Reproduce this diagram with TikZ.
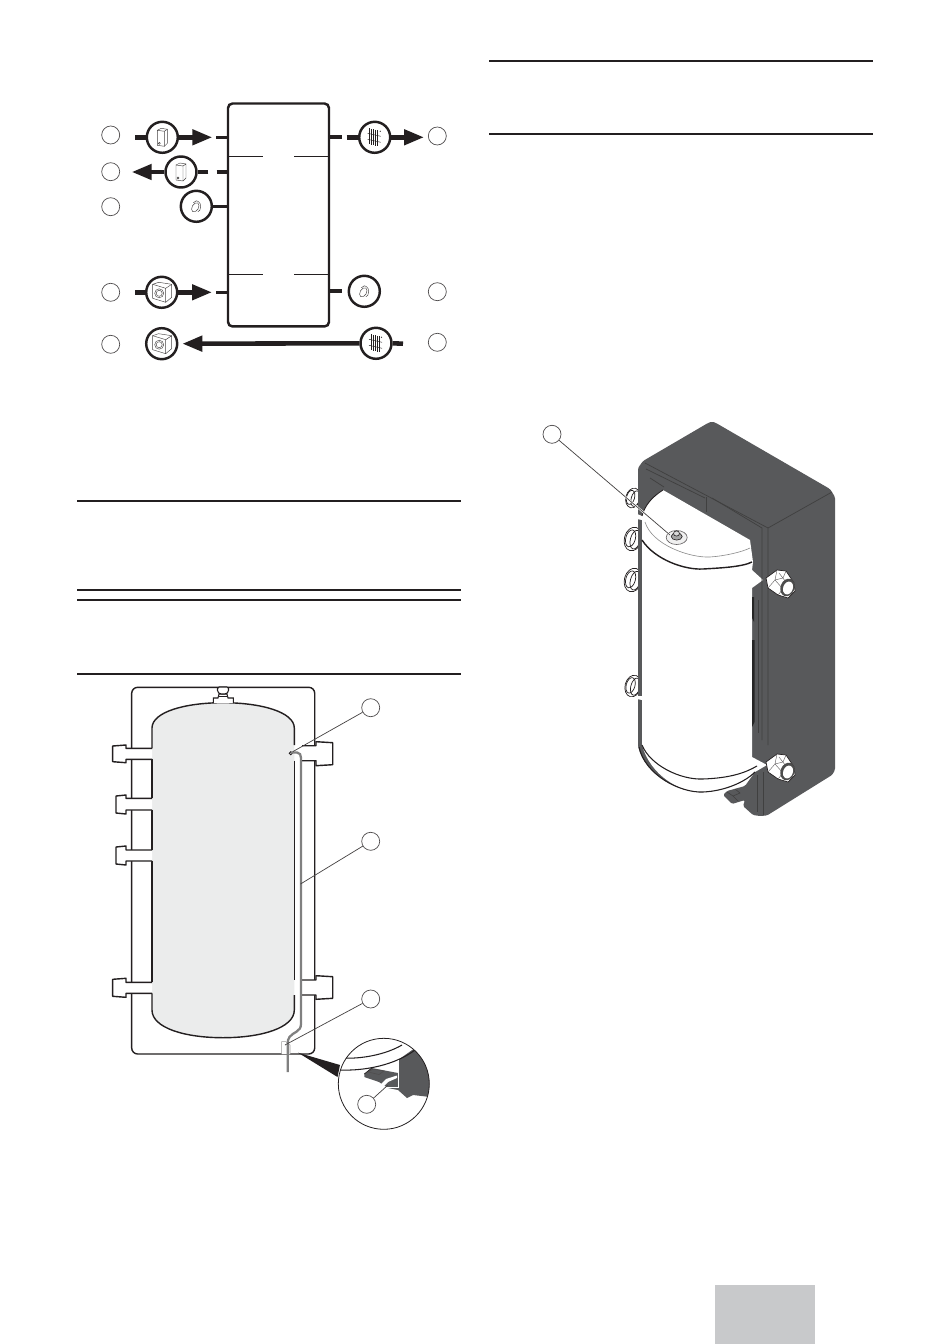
\documentclass[tikz,border=0pt]{standalone}
\usetikzlibrary{arrows.meta}
\definecolor{ink}{HTML}{231F20}
\definecolor{shell}{HTML}{58595B}
\definecolor{tankfill}{HTML}{EBECEC}
\definecolor{tabgray}{HTML}{C8C9CB}
\definecolor{pipe}{HTML}{808080}
\tikzset{
  rulebar/.style={draw=ink,line width=1.1pt},
  lab/.style={circle,draw=ink!80,line width=.4pt,fill=white,minimum size=.36cm,inner sep=0pt},
  sym/.style={circle,draw=ink,line width=1.4pt,fill=white,minimum size=.62cm,inner sep=0pt},
  flow/.style={draw=ink,line width=2.6pt},
  flowarrow/.style={flow,-{Triangle[length=.4cm,width=.3cm]}},
  stub/.style={draw=ink,line width=1.8pt},
  fine/.style={draw=ink!85,line width=.25pt},
  tankline/.style={draw=ink,line width=.8pt},
  leader/.style={draw=ink!85,line width=.4pt},
  fitting/.style={draw=ink,line width=.8pt,fill=white,line join=round},
  pipeline/.style={draw=pipe,line width=1.3pt,line join=round},
  detail/.style={draw=black!75,line width=.4pt},
}
\newcommand\iconbox[1]{\begin{scope}[shift={(#1)},fine]
  \draw (-5,-7)--(-5,8)--(2,9)--(2,-6)--cycle;
  \draw (2,-6)--(5,-8)--(5,6)--(2,9);
  \draw (-5,-7)--(-1,-9)--(5,-8);
  \draw (-3,6) circle (1);
\end{scope}}
\newcommand\iconcyl[1]{\begin{scope}[shift={(#1)},fine]
  \draw[rotate around={-30:(-1,1)}] (-1,1) ellipse [x radius=3.2,y radius=5];
  \draw (-3,-3.5)--(0,-5.5) (3.5,4)--(1.5,5.5);
  \draw (0,-5.5) .. controls (3,-5.5) and (6,-1) .. (3.5,4);
\end{scope}}
\newcommand\iconsq[1]{\begin{scope}[shift={(#1)},fine]
  \draw (-9,-8)--(4,-4)--(4,10)--(-9,6)--cycle;
  \draw (4,-4)--(10,-8)--(10,5)--(4,10);
  \draw (-9,-8)--(-3,-10)--(10,-8);
  \draw (-2.5,1) circle (4.5);
  \draw (-2.5,1) circle (3);
\end{scope}}
\newcommand\icongrid[1]{\begin{scope}[shift={(#1)},draw=ink,line width=.42pt]
  \foreach \gx/\gy in {-5/-9,-3/-8.5,-1/-8,1/-7.5,3/-7}{\draw (\gx,\gy)--(\gx,\gy+16);}
  \draw[line width=.25pt] (-7,-4)--(6,-1) (-7,2)--(6,5);
  \fill[ink] (5.5,-6) circle (.6);
\end{scope}}
\newcommand\lfit[5]{\draw[fitting] (152,#4)--(126,#4)--(126,#2)--(#1,#2+1)--(#1,#3-1)--(126,#3)--(126,#5)--(152,#5);}
\newcommand\rfit[4]{\draw[fitting] (302,#3)--(316,#3)--(316,#1)--(332.7,#1+1)--(332.7,#2-1)--(316,#2)--(316,#4)--(302,#4);}
\newcommand\nut[1]{\begin{scope}[shift={(#1)}]
  \draw[fill=white,draw=ink,line width=.4pt,line join=round] (-14,-5)--(-3,-13)--(6,-12)--(14,0)--(15,8)--(8,15)--(-2,12)--(-12,5)--cycle;
  \draw[draw=ink!70,line width=.25pt] (-3,-13)--(-5,-3)--(-12,5) (-5,-3)--(3,6)--(-2,12) (6,-12)--(3,-5)--(-5,-3) (-1,-10)--(9,3);
  \fill[black!70,rotate around={-20:(7.5,4.5)}] (7.5,4.5) ellipse [x radius=7,y radius=9];
  \fill[white,rotate around={-20:(8,5)}] (8,5) ellipse [x radius=4.8,y radius=6.6];
\end{scope}}
\newcommand\lnut[2]{\begin{scope}[shift={(#1)}]
  \draw[fill=white,draw=ink,line width=.4pt,rotate=-15] (0,0) ellipse [x radius=#2*.72,y radius=#2];
  \draw[draw=ink,line width=.4pt,rotate=-15] (2.5,0) ellipse [x radius=#2*.42,y radius=#2*.8];
  \draw[draw=ink,line width=.4pt,rotate=-15] (-2.5,0) ellipse [x radius=#2*.4,y radius=#2*.72];
\end{scope}}
\begin{document}
\begin{tikzpicture}[x=.02cm,y=-.02cm]
\useasboundingbox (0,0) rectangle (950,1344);
\fill[white] (0,0) rectangle (950,1344);
% section rules
\draw[rulebar] (489,61)--(873,61);
\draw[rulebar] (489,134)--(873,134);
\draw[rulebar] (77,501)--(461,501);
\draw[rulebar] (77,590)--(461,590);
\draw[rulebar] (77,600)--(461,600);
\draw[rulebar] (77,674)--(461,674);
\fill[tabgray] (715,1285) rectangle (815,1344);

% ---------- schematic ----------
\node[draw=ink,line width=1.4pt,rounded corners=.09cm,minimum width=2.02cm,minimum height=4.46cm,inner sep=0pt] (box) at (278.5,215) {};
\draw[ink,line width=.55pt] (228,156.3)--(263.3,156.3) (294.3,156.3)--(329,156.3) (228,274.3)--(263.3,274.3) (294.3,274.3)--(329,274.3);
\node[sym] (sa) at (162.3,137.3) {};
\node[sym] (sb) at (181,172) {};
\node[sym] (sc) at (196.3,206.3) {};
\node[sym] (sd) at (161.7,292.3) {};
\node[sym] (se) at (161.7,343.7) {};
\node[sym] (sf) at (374.7,137.3) {};
\node[sym] (sg) at (364.3,291.3) {};
\node[sym] (sh) at (376,343.3) {};
\iconbox{162.3,137.3}\iconbox{181,172}\iconcyl{196.3,206.3}\iconcyl{364.3,291.3}
\iconsq{161.7,292.3}\iconsq{161.7,343.7}\icongrid{374.7,137.3}\icongrid{376,343.3}
\foreach \n/\px/\py in {l1/110.7/135,l2/110.7/171.7,l3/110.7/206.7,l4/110.7/292.3,l5/110.7/344.3,r1/437.3/136,r2/437.3/291.7,r3/437.3/342.3}{\node[lab] (\n) at (\px,\py) {};}
\coordinate (ta) at (135,137.3); \coordinate (ha) at (212.3,137.3);
\coordinate (tb) at (208.3,172); \coordinate (hb) at (131.7,172);
\coordinate (td) at (135,292.3); \coordinate (hd) at (212,292.3);
\coordinate (te) at (403,343.7); \coordinate (he) at (182.3,343.7);
\coordinate (tf) at (346.7,137.3); \coordinate (hf) at (424,137.3);
\draw[flow] (ta)--(sa.west); \draw[flowarrow] (sa.east)--(ha);
\draw[flow] (tb)--(sb.east); \draw[flowarrow] (sb.west)--(hb);
\draw[flow] (td)--(sd.west); \draw[flowarrow] (sd.east)--(hd);
\draw[flow] (te)--(sh.east); \draw[flowarrow] (sh.west)--(he);
\draw[flow] (tf)--(sf.west); \draw[flowarrow] (sf.east)--(hf);
\draw[stub] (216,137.3)--(228,137.3) (216.7,172)--(228,172) (sc.east)--(228,206.3) (216,292.3)--(228,292.3);
\draw[flow,line width=2.1pt] (329.5,137.3)--(341.7,137.3) (329.5,291.3)--(341.7,291.3);

% ---------- tank front view ----------
\draw[tankline,fill=white,rounded corners=.12cm] (131.7,687.3) rectangle (314.7,1054);
\fill[tankfill] (152,728) .. controls (152,712) and (185,702.7) .. (223,702.7) .. controls (261,702.7) and (294.3,712) .. (294.3,728)
  -- (294.3,1010) .. controls (294.3,1028) and (261,1037.7) .. (223,1037.7) .. controls (185,1037.7) and (152,1028) .. (152,1010) -- cycle;
\draw[tankline] (152,748.3)--(152,728) .. controls (152,712) and (185,702.7) .. (223,702.7) .. controls (261,702.7) and (294.3,712) .. (294.3,728)--(294.3,745);
\draw[tankline] (152,759.3)--(152,798.3) (152,810)--(152,850) (152,861)--(152,982.3);
\draw[tankline] (294.3,760.7)--(294.3,980);
\draw[tankline] (152,993.3)--(152,1010) .. controls (152,1028) and (185,1037.7) .. (223,1037.7) .. controls (261,1037.7) and (294.3,1028) .. (294.3,1010)--(294.3,995);
% top valve
\draw[tankline,fill=white,line width=.6pt] (213.3,703)--(213.3,698)--(218,698)--(219,694)--(227,694)--(228,698)--(233.3,698)--(233.3,703);
\draw[tankline,fill=white,line width=.6pt,rounded corners=.03cm] (217.5,687)--(228.5,687)--(228.5,692)--(226,694)--(220,694)--(217.5,692)--cycle;
\draw[ink,line width=.5pt] (219,696.5)--(227,696.5);
% fittings
\lfit{112.7}{745}{762.7}{748.3}{759.3}
\lfit{116}{795}{814}{798.3}{810}
\lfit{116}{846}{865}{850}{861}
\lfit{112.7}{978.3}{997.3}{982.3}{993.3}
\rfit{741.7}{765.7}{745.7}{760.7}
\rfit{975.7}{999.3}{980}{995}
% frame notch
\draw[fill=white,draw=ink!45,line width=.3pt] (281.7,1054)--(281.7,1041.7)--(286,1041.7)--(290,1045)--(290,1054);
% sensor pipe
\draw[draw=ink,line width=.5pt] (290.7,753.3) circle (1.5);
\draw[pipeline] (291,752.5)--(297,752.5) .. controls (300,752.5) and (301,755) .. (301,758)
  -- (301,1024) .. controls (301,1032) and (293,1032) .. (289.5,1037) .. controls (288,1039) and (287.7,1041) .. (287.7,1044) -- (287.7,1072);
% labels and leaders
\node[lab] (t1) at (370.7,707.7) {};
\node[lab] (t2) at (370.7,841.3) {};
\node[lab] (t3) at (370.7,999) {};
\coordinate (p1) at (292.7,751.7);
\coordinate (p2) at (300.5,884);
\coordinate (p3) at (285,1045);
\draw[leader] (t1)--(p1);
\draw[leader] (t2)--(p2);
\draw[leader] (t3)--(p3);
% inset
\fill[ink] (298,1052.7)--(340,1065)--(337.5,1077)--cycle;
\begin{scope}
  \clip (383.8,1083.8) circle (45.5);
  \fill[shell] (364.3,1074)--(371.7,1068)--(398,1073)--(398,1060)--(415,1048)--(440,1040)--(440,1098)--(430,1097)--(413,1095)--(407,1098)--(398,1090)--(388,1088)--(379,1082)--(364.3,1077)--cycle;
  \draw[ink,line width=.6pt] (344,1058) .. controls (360,1059) and (385,1055) .. (402,1045);
  \draw[ink,line width=.6pt] (340,1070) .. controls (365,1071) and (395,1065) .. (415,1050);
  \draw[white,line width=.5pt] (398,1060)--(398,1087)--(380,1087);
  \fill[white] (380,1085)--(386,1079)--(397,1075.5)--(397,1078)--(388,1082)--(383,1087)--cycle;
  \draw[ink!80,line width=.3pt] (368,1072)--(373,1069)--(384,1071)--(379,1074.5)--cycle;
  \draw[ink,line width=.4pt] (364.3,1074)--(371.7,1068);
\end{scope}
\node[draw=ink,line width=.45pt,circle,minimum size=1.82cm,inner sep=0pt] (inset) at (383.8,1083.8) {};
\node[lab] (t4) at (366.7,1104.3) {};
\coordinate (p4) at (388,1085);
\draw[leader] (t4)--(p4);

% ---------- 3-D view ----------
% left fittings, behind the strip
\lnut{633,498}{10}
\lnut{633,539}{12}
\lnut{633,580}{12}
\lnut{633,686}{11}
% shell
\fill[shell,rounded corners=.03cm] (638,468)--(643,461)--(708,423)--(712,421.5)--(716,423)--(830,489)--(835,497)--(835,770)--(832,775)--(767,815.5)--(760,816)--(753,815)--(743,806)--(745,800)--(732,804)--(723,795)--(727,791)--(745,786)--(755,772)
   .. controls (745,782) and (725,791) .. (703,792) .. controls (680,793) and (645,775) .. (638,746) -- cycle;
% tank
\fill[white] (642,516) .. controls (645,505) and (652,497) .. (663,490)--(750,540)--(753,562)--(752,570)--(763,580)--(752,588)--(752,757)--(767,765)--(755,772)
   .. controls (745,782) and (725,791) .. (703,792) .. controls (680,793) and (650,775) .. (642,745) -- cycle;
% strip gaps
\fill[white] (637,514)--(642,516)--(642,520)--(637,519)--cycle;
\fill[white] (637,696)--(642,696)--(642,700)--(637,699)--cycle;
\draw[ink,line width=.6pt] (642,745) .. controls (650,765) and (680,780) .. (703,779) .. controls (730,778) and (745,773) .. (757,766);
\draw[ink,line width=.6pt] (639,747) .. controls (645,775) and (680,793) .. (703,792) .. controls (725,791) and (745,782) .. (755,772);
\draw[ink,line width=.8pt] (642,540) .. controls (655,560) and (685,570) .. (703,569) .. controls (720,568) and (742,567) .. (752,562);
\draw[black!45,line width=.35pt] (645,522) .. controls (652,545) and (690,558) .. (710,557) .. controls (725,556) and (742,552) .. (750,548);
\draw[ink,line width=.5pt] (642,516) .. controls (645,505) and (652,497) .. (663,490);
% shell details
\draw[detail] (645,463)--(768,528)--(768,745);
\draw[detail] (768,528)--(832,492);
\draw[detail] (646,469)--(705,498) (712,498)--(762,528)--(762,740);
\draw[detail] (650,478)--(664,487);
\draw[detail] (706,497)--(706,512);
\draw[detail] (758,600)--(758,733);
\fill[black!85] (752,640)--(754.5,640)--(754.5,722)--(752,727)--cycle;
\draw[detail] (757,775)--(757,812) (763,772)--(763,815);
\draw[black!75,line width=.35pt] (727,792)--(733,796)--(740,793)--(735,789) (733,796)--(738,801);
\fill[black!85] (752,597)--(754,597)--(754,622)--(752,618)--cycle;
% right nuts
\nut{780,583}
\nut{780,767}
% dome valve
\draw[fill=black!6,draw=ink!70,line width=.35pt] (676.7,537.5) ellipse [x radius=10.5,y radius=7];
\draw[fill=black!35,draw=ink,line width=.35pt] (676.7,536.5) ellipse [x radius=5.5,y radius=3.6];
\draw[fill=black!15,draw=ink,line width=.35pt] (676.5,533.5) ellipse [x radius=3,y radius=2.6];
% label
\node[lab] (m1) at (552,434.3) {};
\coordinate (pm) at (670,535);
\draw[white,line width=1.1pt] (m1)--(pm);
\draw[leader] (m1)--(pm);
\end{tikzpicture}
\end{document}
